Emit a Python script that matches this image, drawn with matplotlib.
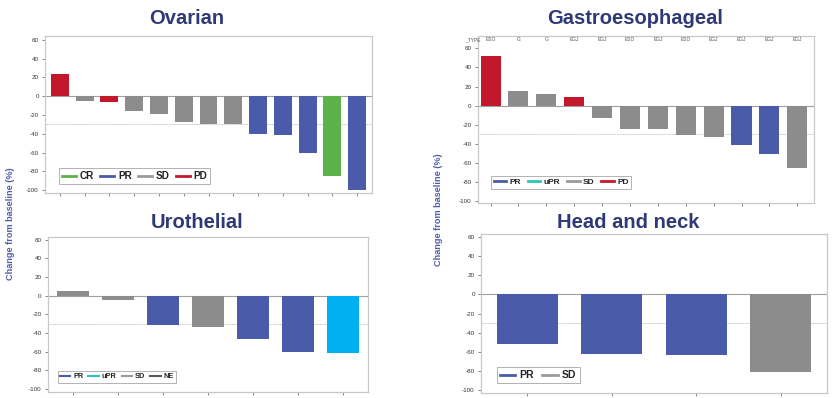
import matplotlib
matplotlib.use("Agg")
import matplotlib.pyplot as plt
from matplotlib.lines import Line2D

plt.rcParams['font.family'] = ['Liberation Sans', 'DejaVu Sans']

# ---------------- data ----------------
ovarian_values = [24, -5, -6, -16, -19, -27, -30, -30, -40, -41, -60, -85, -100]
ovarian_resp = ["PD", "SD", "PD", "SD", "SD", "SD", "SD", "SD", "PR", "PR", "PR", "CR", "PR"]
ovarian_legend = ["CR", "PR", "SD", "PD"]

gastro_values = [52, 15, 12, 9, -13, -24, -24, -31, -33, -41, -51, -65]
gastro_resp = ["PD", "SD", "SD", "PD", "SD", "SD", "SD", "SD", "SD", "PR", "PR", "SD"]
gastro_types = ["ESO", "G", "G", "EGJ", "EGJ", "ESO", "EGJ", "ESO", "EGJ", "EGJ", "EGJ", "EGJ"]
gastro_legend = ["PR", "uPR", "SD", "PD"]

uro_values = [5, -5, -31, -34, -47, -60, -62]
uro_resp = ["SD", "SD", "PR", "SD", "PR", "PR", "uPR"]
uro_legend = ["PR", "uPR", "SD", "NE"]

hn_values = [-52, -62, -63, -81]
hn_resp = ["PR", "PR", "PR", "SD"]
hn_legend = ["PR", "SD"]

yticks = [60, 40, 20, 0, -20, -40, -60, -80, -100]

# ---------------- style ----------------
bar_colors = {"PD": "#C3172B", "SD": "#8C8C8C", "PR": "#4A5BAA",
              "CR": "#5DB14A", "uPR": "#00B0F0", "NE": "#6E6E6E"}
legend_colors = {"PD": "#C3172B", "SD": "#9A9A9A", "PR": "#4A5BAA",
                 "CR": "#5DB14A", "uPR": "#2EC4B6", "NE": "#5A5A5A"}
title_color = "#2E3A78"
W, H = 833, 398

fig = plt.figure(figsize=(W / 100, H / 100), dpi=100)


def make_ax(l, r, t, b):
    return fig.add_axes([l / W, 1 - b / H, (r - l) / W, (b - t) / H])


def draw(ax, values, resp, legend_items, xlim, ylim, title, title_xy,
         leg_fs, leg_anchor, leg_lw=2.0, colsp=0.8, hlen=1.5, title_fs=14.5):
    x = list(range(len(values)))
    ax.bar(x, values, width=0.72, color=[bar_colors[r] for r in resp],
           edgecolor='none', zorder=2)
    ax.axhline(0, color='#A0A0A0', lw=0.8, zorder=1)
    ax.axhline(-30, color='#B0B0B0', lw=0.6, ls=(0, (1, 1)), zorder=1)
    ax.set_xlim(*xlim)
    ax.set_ylim(*ylim)
    ax.set_yticks(yticks)
    ax.set_yticklabels([str(v) for v in yticks])
    ax.set_xticks(x)
    ax.set_xticklabels([])
    ax.tick_params(axis='both', labelsize=4.5, colors='#555555', length=2.5,
                   width=0.5, pad=2, labelcolor='#333333')
    for s in ax.spines.values():
        s.set_color('#C8C8C8')
        s.set_linewidth(0.9)
    handles = [Line2D([0], [0], color=legend_colors[k], lw=leg_lw) for k in legend_items]
    leg = ax.legend(handles, legend_items, loc='lower left', bbox_to_anchor=leg_anchor,
                    ncol=len(legend_items), fontsize=leg_fs, frameon=True,
                    fancybox=False, handlelength=hlen, handletextpad=0.4,
                    columnspacing=colsp, borderpad=0.3, borderaxespad=0)
    leg.get_frame().set_edgecolor('#909090')
    leg.get_frame().set_linewidth(0.6)
    for t in leg.get_texts():
        t.set_fontweight('bold')
        t.set_color('#222222')
    fig.text(title_xy[0] / W, 1 - title_xy[1] / H, title, ha='center', va='center',
             fontsize=title_fs, fontweight='bold', color=title_color)


# Ovarian
ax1 = make_ax(45, 372, 36, 193)
draw(ax1, ovarian_values, ovarian_resp, ovarian_legend, (-0.6, 12.6), (-103, 64),
     "Ovarian", (187, 18), 7.2, (0.042, 0.055), colsp=0.6, hlen=1.4)

# Gastroesophageal
ax2 = make_ax(478, 814, 36, 203)
draw(ax2, gastro_values, gastro_resp, gastro_legend, (-0.45, 11.6), (-102, 73),
     "Gastroesophageal", (635, 19), 6.0, (0.04, 0.085))
for i, t in enumerate(gastro_types):
    ax2.text(i, 69, t, ha='center', va='center', fontsize=3.5, color='#555555')
ax2.text(-0.35, 69, "_TYPE", ha='right', va='center', fontsize=3.5, color='#555555')

# Urothelial
ax3 = make_ax(48, 368, 237, 392)
draw(ax3, uro_values, uro_resp, uro_legend, (-0.55, 6.55), (-103.5, 63),
     "Urothelial", (197, 222), 5.3, (0.03, 0.06), leg_lw=1.5, colsp=0.7, hlen=1.4)

# Head and neck
ax4 = make_ax(481, 827, 234, 393)
draw(ax4, hn_values, hn_resp, hn_legend, (-0.55, 3.55), (-103, 63),
     "Head and neck", (628, 222), 7.5, (0.045, 0.06))

# y labels
fig.text(11 / W, 1 - 224 / H, "Change from baseline (%)", rotation=90, ha='center',
         va='center', fontsize=6.6, fontweight='bold', color='#4F5DA8')
fig.text(439 / W, 1 - 210 / H, "Change from baseline (%)", rotation=90, ha='center',
         va='center', fontsize=6.6, fontweight='bold', color='#4F5DA8')

fig.savefig("out.png", dpi=100)
